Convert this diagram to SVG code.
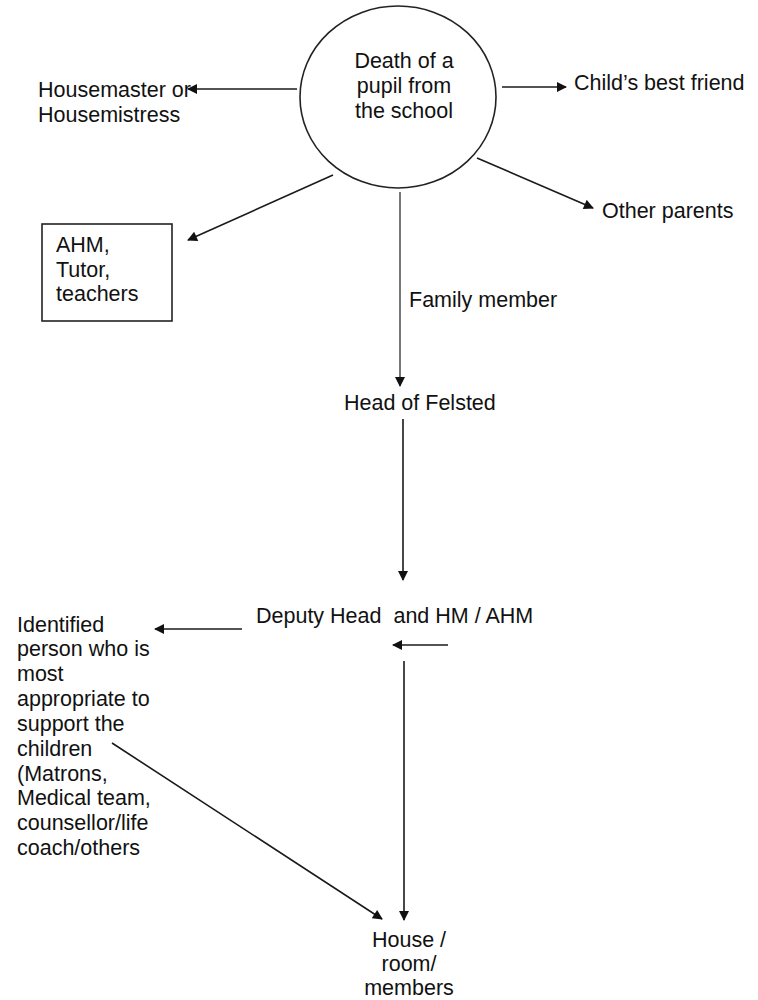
<svg xmlns="http://www.w3.org/2000/svg" width="758" height="1000" viewBox="0 0 758 1000">
<style>
text{font-family:"Liberation Sans",Arial,sans-serif;font-size:21.5px;fill:#111}
.c{text-anchor:middle}
.ln{stroke:#1a1a1a;stroke-width:1.6;fill:none;marker-end:url(#ah)}
.shape{fill:#fff;stroke:#222;stroke-width:1.6}
</style>
<defs>
<marker id="ah" viewBox="0 0 10 10" refX="9" refY="5" markerWidth="12" markerHeight="10" markerUnits="userSpaceOnUse" orient="auto">
<path d="M0,0 L10,5 L0,10 z" fill="#111"/>
</marker>
</defs>
<rect width="758" height="1000" fill="#fff"/>
<g id="connectors">
<line class="ln" x1="297" y1="89" x2="188" y2="89"/>
<line class="ln" x1="502" y1="87" x2="566" y2="87"/>
<line class="ln" x1="477" y1="158" x2="593" y2="208"/>
<line class="ln" x1="333" y1="175" x2="188" y2="240"/>
<line class="ln" x1="400" y1="192" x2="400" y2="386" style="stroke:#555"/>
<line class="ln" x1="403" y1="419" x2="403" y2="580"/>
<line class="ln" x1="242" y1="629" x2="155" y2="629"/>
<line class="ln" x1="448" y1="645" x2="393" y2="645"/>
<line class="ln" x1="404" y1="661" x2="404" y2="920"/>
<line class="ln" x1="112" y1="743" x2="382" y2="919"/>
</g>
<g id="death">
<ellipse class="shape" cx="398" cy="97" rx="98" ry="91"/>
<text class="c" x="404" y="68">Death of a</text>
<text class="c" x="404" y="93">pupil from</text>
<text class="c" x="404" y="118">the school</text>
</g>
<g id="housemaster">
<text x="38" y="97">Housemaster or</text>
<text x="38" y="122">Housemistress</text>
</g>
<g id="best-friend">
<text x="574" y="90">Child’s best friend</text>
</g>
<g id="other-parents">
<text x="602" y="218">Other parents</text>
</g>
<g id="ahm">
<rect class="shape" x="42" y="224" width="130" height="97"/>
<text x="56" y="252">AHM,</text>
<text x="56" y="277">Tutor,</text>
<text x="56" y="301">teachers</text>
</g>
<g id="family-member">
<text x="409" y="307">Family member</text>
</g>
<g id="head">
<text x="344" y="410">Head of Felsted</text>
</g>
<g id="deputy">
<text x="256" y="623" xml:space="preserve">Deputy Head  and HM / AHM</text>
</g>
<g id="identified">
<text x="17" y="632">Identified</text>
<text x="17" y="656">person who is</text>
<text x="17" y="681">most</text>
<text x="17" y="706">appropriate to</text>
<text x="17" y="731">support the</text>
<text x="17" y="756">children</text>
<text x="17" y="781">(Matrons,</text>
<text x="17" y="805">Medical team,</text>
<text x="17" y="830">counsellor/life</text>
<text x="17" y="855">coach/others</text>
</g>
<g id="house">
<text class="c" x="409" y="947">House /</text>
<text class="c" x="409" y="971">room/</text>
<text class="c" x="409" y="995">members</text>
</g>
</svg>
